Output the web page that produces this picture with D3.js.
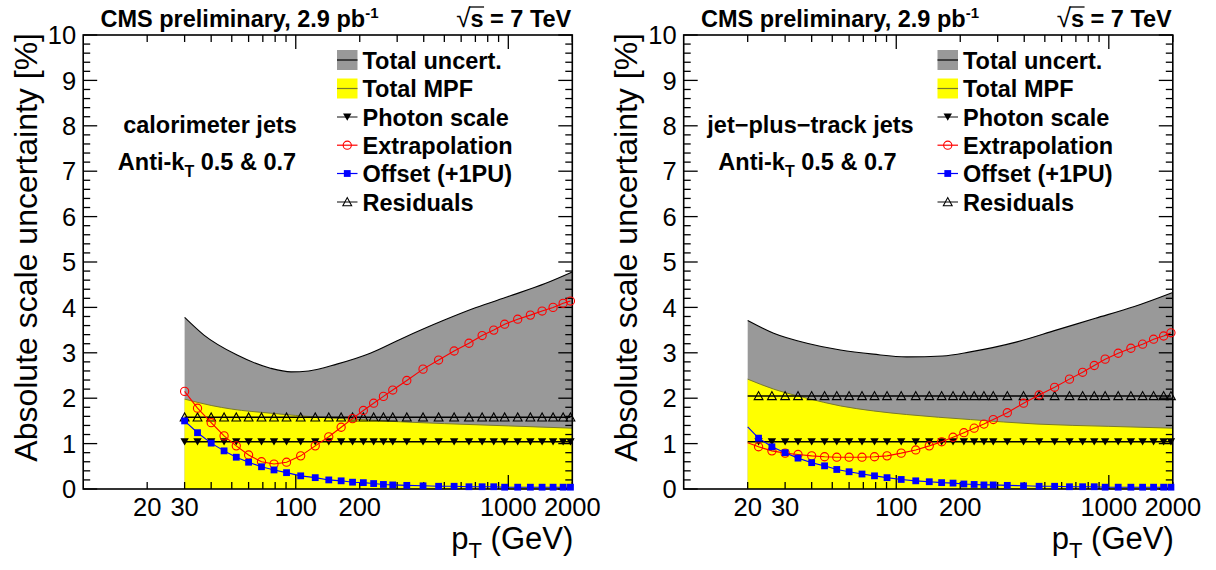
<!DOCTYPE html>
<html><head><meta charset="utf-8">
<script src="https://cdn.jsdelivr.net/npm/d3@7"></script>
<style>
body{margin:0;background:#fff}
svg{display:block}
text{font-family:"Liberation Sans",Arial,Helvetica,sans-serif;fill:#000}
</style>
</head><body>
<svg id="c" width="1216" height="570"></svg>
<script>
// ---------------- DATA ----------------
const xDomain = [10, 2000];
const yDomain = [0, 10];
const yTickValues = [0, 1, 2, 3, 4, 5, 6, 7, 8, 9, 10];
const xTickLabelValues = [20, 30, 100, 200, 1000, 2000];
const legendLabels = ["Total uncert.", "Total MPF", "Photon scale", "Extrapolation", "Offset (+1PU)", "Residuals"];
const headerLeft = "CMS preliminary, 2.9 pb";
const headerRight = "= 7 TeV";
const yTitle = "Absolute scale uncertainty [%]";

// calorimeter jets (left panel)
const calMarkerPt = [30, 34.5, 40, 46, 52.5, 60, 69, 79, 90.5, 105.5, 123.5, 143, 163.5, 185, 208, 232.5, 258.5, 286, 333, 397, 470, 556, 653, 753, 854, 961, 1107, 1270, 1442, 1624, 1811, 1960];
const calPhoton = [1.04, 1.04, 1.04, 1.04, 1.04, 1.04, 1.04, 1.04, 1.04, 1.04, 1.04, 1.04, 1.04, 1.04, 1.04, 1.04, 1.04, 1.04, 1.04, 1.04, 1.04, 1.04, 1.04, 1.04, 1.04, 1.04, 1.04, 1.04, 1.04, 1.04, 1.04, 1.04];
const calExtrap = [2.15, 1.78, 1.46, 1.17, 0.95, 0.75, 0.60, 0.55, 0.59, 0.73, 0.95, 1.15, 1.36, 1.55, 1.73, 1.89, 2.04, 2.18, 2.39, 2.64, 2.84, 3.04, 3.21, 3.38, 3.50, 3.63, 3.74, 3.83, 3.92, 4.00, 4.09, 4.14];
const calOffset = [1.50, 1.24, 1.01, 0.84, 0.70, 0.59, 0.49, 0.42, 0.36, 0.29, 0.25, 0.20, 0.18, 0.15, 0.14, 0.12, 0.10, 0.09, 0.08, 0.07, 0.06, 0.06, 0.05, 0.05, 0.05, 0.04, 0.04, 0.04, 0.04, 0.04, 0.04, 0.04];
const calResidual = [1.58, 1.58, 1.58, 1.58, 1.58, 1.58, 1.58, 1.58, 1.58, 1.58, 1.58, 1.58, 1.58, 1.58, 1.58, 1.58, 1.58, 1.58, 1.58, 1.58, 1.58, 1.58, 1.58, 1.58, 1.58, 1.58, 1.58, 1.58, 1.58, 1.58, 1.58, 1.58];
const calTotalPt = [30, 37, 53, 76, 95, 115, 156, 224, 311, 500, 700, 1000, 1500, 2000];
const calTotal = [3.78, 3.39, 2.95, 2.66, 2.58, 2.60, 2.75, 2.99, 3.30, 3.72, 3.99, 4.24, 4.53, 4.78];
const calMpfPt = [30, 40, 50, 76, 100, 150, 200, 311, 500, 1000, 2000];
const calMpf = [1.98, 1.84, 1.76, 1.67, 1.62, 1.56, 1.53, 1.48, 1.44, 1.39, 1.34];

// jet-plus-track jets (right panel)
const jptLineStartPt = [20];
const jptPhotonStart = [1.04];
const jptExtrapStart = [1.02];
const jptOffsetStart = [1.37];
const jptResidualStart = [2.05];
const jptMarkerPt = [22.5, 26, 30, 34.5, 40, 46, 52.5, 60, 69, 79, 90.5, 105.5, 123.5, 143, 163.5, 185, 208, 232.5, 258.5, 286, 333, 397, 470, 556, 653, 753, 854, 961, 1107, 1270, 1442, 1624, 1811, 1960];
const jptPhoton = [1.04, 1.04, 1.04, 1.04, 1.04, 1.04, 1.04, 1.04, 1.04, 1.04, 1.04, 1.04, 1.04, 1.04, 1.04, 1.04, 1.04, 1.04, 1.04, 1.04, 1.04, 1.04, 1.04, 1.04, 1.04, 1.04, 1.04, 1.04, 1.04, 1.04, 1.04, 1.04, 1.04, 1.04];
const jptExtrap = [0.93, 0.84, 0.79, 0.76, 0.73, 0.71, 0.70, 0.70, 0.70, 0.71, 0.73, 0.79, 0.86, 0.95, 1.04, 1.14, 1.24, 1.34, 1.43, 1.53, 1.68, 1.89, 2.07, 2.24, 2.42, 2.57, 2.72, 2.86, 2.99, 3.10, 3.19, 3.30, 3.37, 3.44];
const jptOffset = [1.12, 0.93, 0.80, 0.68, 0.58, 0.51, 0.43, 0.38, 0.33, 0.29, 0.25, 0.21, 0.18, 0.16, 0.14, 0.13, 0.11, 0.10, 0.09, 0.09, 0.08, 0.07, 0.06, 0.06, 0.05, 0.05, 0.05, 0.04, 0.04, 0.04, 0.04, 0.04, 0.04, 0.04];
const jptResidual = [2.05, 2.05, 2.05, 2.05, 2.05, 2.05, 2.05, 2.05, 2.05, 2.05, 2.05, 2.05, 2.05, 2.05, 2.05, 2.05, 2.05, 2.05, 2.05, 2.05, 2.05, 2.05, 2.05, 2.05, 2.05, 2.05, 2.05, 2.05, 2.05, 2.05, 2.05, 2.05, 2.05, 2.05];
const jptTotalPt = [20, 26.5, 38, 54.6, 78, 112, 165, 223, 370, 565, 865, 1319, 2000];
const jptTotal = [3.71, 3.43, 3.21, 3.06, 2.97, 2.91, 2.93, 3.02, 3.24, 3.50, 3.76, 4.02, 4.33];
const jptMpfPt = [20, 26.5, 38, 54.6, 78, 112, 223, 459, 1000, 2000];
const jptMpf = [2.42, 2.20, 2.00, 1.83, 1.72, 1.64, 1.53, 1.43, 1.38, 1.34];

// ---------------- DRAW ----------------
const svg = d3.select("#c");
svg.append("rect").attr("width", 1216).attr("height", 570).attr("fill", "#fff");

const COL = {gray: "#999999", yellow: "#ffff00", mpfLine: "#7a7a2a", red: "#ff0000", blue: "#0000ff"};
const FS = 23.5; // bold annotation font size
const zip = (a, b) => a.map((v, i) => [v, b[i]]);

function marker(g, type, cx, cy) {
  if (type === "tdown") {
    g.append("path").attr("d", `M${cx-4.2},${cy-3.6}L${cx+4.2},${cy-3.6}L${cx},${cy+3.8}Z`).attr("fill", "#000");
  } else if (type === "tup") {
    g.append("path").attr("d", `M${cx-4.4},${cy+3.7}L${cx+4.4},${cy+3.7}L${cx},${cy-4.4}Z`)
      .attr("fill", "none").attr("stroke", "#000").attr("stroke-width", 1.1);
  } else if (type === "circle") {
    g.append("circle").attr("cx", cx).attr("cy", cy).attr("r", 4.1)
      .attr("fill", "none").attr("stroke", COL.red).attr("stroke-width", 1.1);
  } else if (type === "square") {
    g.append("rect").attr("x", cx-3.4).attr("y", cy-3.4).attr("width", 6.8).attr("height", 6.8).attr("fill", COL.blue);
  }
}

const panels = [
  {dx: 0, title: "calorimeter jets", markerPt: calMarkerPt, photon: calPhoton, extrap: calExtrap, offset: calOffset, residual: calResidual,
   totalPt: calTotalPt, total: calTotal, mpfPt: calMpfPt, mpf: calMpf, start: null},
  {dx: 600.5, title: "jet\u2212plus\u2212track jets", markerPt: jptMarkerPt, photon: jptPhoton, extrap: jptExtrap, offset: jptOffset, residual: jptResidual,
   totalPt: jptTotalPt, total: jptTotal, mpfPt: jptMpfPt, mpf: jptMpf,
   start: {pt: jptLineStartPt, photon: jptPhotonStart, extrap: jptExtrapStart, offset: jptOffsetStart, residual: jptResidualStart}}
];

panels.forEach(p => {
  const g = svg.append("g").attr("transform", `translate(${p.dx},0)`);
  const L = 83.2, R = 572.3, T = 35, B = 489;
  const x = d3.scaleLog().domain(xDomain).range([L, R]);
  const y = d3.scaleLinear().domain(yDomain).range([B, T]);

  // bands
  const total = zip(p.totalPt, p.total);
  const mpf = zip(p.mpfPt, p.mpf);
  const area = d3.area().x(d => x(d[0])).y0(y(0)).y1(d => y(d[1])).curve(d3.curveMonotoneX);
  const line = d3.line().x(d => x(d[0])).y(d => y(d[1])).curve(d3.curveMonotoneX);
  g.append("path").attr("d", area(total)).attr("fill", COL.gray);
  g.append("path").attr("d", line(total)).attr("fill", "none").attr("stroke", "#000").attr("stroke-width", 1.1);
  g.append("path").attr("d", area(mpf)).attr("fill", COL.yellow);
  g.append("path").attr("d", line(mpf)).attr("fill", "none").attr("stroke", COL.mpfLine).attr("stroke-width", 1);

  // frame and ticks
  const ax = g.append("g");
  ax.append("rect").attr("x", L).attr("y", T).attr("width", R - L).attr("height", B - T)
    .attr("fill", "none").attr("stroke", "#000").attr("stroke-width", 1.6);
  const yMinor = d3.range(0, 10.001, 0.2);
  yMinor.forEach(v => {
    const major = Math.abs(v - Math.round(v)) < 1e-6;
    const len = major ? 14 : 7;
    ax.append("line").attr("x1", L).attr("x2", L + len).attr("y1", y(v)).attr("y2", y(v)).attr("stroke", "#000").attr("stroke-width", 1.3);
    ax.append("line").attr("x1", R).attr("x2", R - len).attr("y1", y(v)).attr("y2", y(v)).attr("stroke", "#000").attr("stroke-width", 1.3);
  });
  const xt = [];
  [10, 100, 1000].forEach(d => { for (let k = 1; k <= 9; k++) { const v = d * k; if (v > 10 && v <= 2000) xt.push(v); } });
  xt.forEach(v => {
    const major = (v === 100 || v === 1000);
    const len = major ? 14 : 7;
    ax.append("line").attr("x1", x(v)).attr("x2", x(v)).attr("y1", B).attr("y2", B - len).attr("stroke", "#000").attr("stroke-width", 1.3);
    ax.append("line").attr("x1", x(v)).attr("x2", x(v)).attr("y1", T).attr("y2", T + len).attr("stroke", "#000").attr("stroke-width", 1.3);
  });

  // tick labels
  yTickValues.forEach(v => {
    ax.append("text").attr("x", L - 7).attr("y", y(v)).attr("dy", "0.36em").attr("text-anchor", "end")
      .attr("font-size", 25.5).text(v);
  });
  xTickLabelValues.forEach(v => {
    ax.append("text").attr("x", x(v)).attr("y", 515.5).attr("text-anchor", "middle").attr("font-size", 25.5).text(v);
  });

  // axis titles
  g.append("text").attr("transform", `translate(36.5,${T - 2}) rotate(-90)`).attr("text-anchor", "end")
    .attr("font-size", 32).text(yTitle);
  const xtitle = g.append("text").attr("x", R + 1).attr("y", 549).attr("text-anchor", "end").attr("font-size", 31);
  xtitle.append("tspan").text("p");
  xtitle.append("tspan").attr("font-size", 22).attr("dy", 9).text("T");
  xtitle.append("tspan").attr("dy", -9).text(" (GeV)");

  // series
  const ser = (vals, startVals) => {
    const pts = zip(p.markerPt, vals);
    return p.start ? zip(p.start.pt, startVals).concat(pts) : pts;
  };
  const lin = d3.line().x(d => x(d[0])).y(d => y(d[1]));
  const defs = [
    {vals: p.residual, sv: p.start && p.start.residual, color: "#000", w: 1.6, m: "tup"},
    {vals: p.photon, sv: p.start && p.start.photon, color: "#000", w: 1.6, m: "tdown"},
    {vals: p.extrap, sv: p.start && p.start.extrap, color: COL.red, w: 1.1, m: "circle"},
    {vals: p.offset, sv: p.start && p.start.offset, color: COL.blue, w: 1.1, m: "square"}
  ];
  defs.forEach(s => {
    g.append("path").attr("d", lin(ser(s.vals, s.sv))).attr("fill", "none").attr("stroke", s.color).attr("stroke-width", s.w);
    const mg = g.append("g");
    p.markerPt.forEach((pt, i) => marker(mg, s.m, x(pt), y(s.vals[i])));
  });

  // header
  const h = g.append("text").attr("x", 100.5).attr("y", 26.5).attr("font-size", FS).attr("font-weight", "bold");
  h.append("tspan").text(headerLeft);
  h.append("tspan").attr("dy", -9).attr("font-size", 15).text("-1");
  const hr = g.append("text").attr("x", R - 1).attr("y", 26.5).attr("text-anchor", "end").attr("font-size", FS).attr("font-weight", "bold");
  hr.append("tspan").attr("font-weight", "normal").attr("font-size", 26).text("\u221A");
  hr.append("tspan").text("s");
  hr.append("tspan").text(" " + headerRight);
  const hn = hr.node();
  const e0 = hn.getExtentOfChar(0), e1 = hn.getExtentOfChar(1);
  g.append("line").attr("x1", e0.x + e0.width - 1.5).attr("x2", e1.x + e1.width + 0.5)
    .attr("y1", 7).attr("y2", 7).attr("stroke", "#000").attr("stroke-width", 1.3);

  // panel labels
  g.append("text").attr("x", 210).attr("y", 133).attr("text-anchor", "middle").attr("font-size", FS).attr("font-weight", "bold")
    .text(p.title);
  const a = g.append("text").attr("x", 207).attr("y", 170).attr("text-anchor", "middle").attr("font-size", FS).attr("font-weight", "bold");
  a.append("tspan").text("Anti-k");
  a.append("tspan").attr("dy", 7).attr("font-size", 16).text("T");
  a.append("tspan").attr("dy", -7).text(" 0.5 & 0.7");

  // legend
  const lx = 337, rowY = [60, 88.5, 117, 145.2, 173.5, 202];
  const lg = g.append("g");
  lg.append("rect").attr("x", lx).attr("y", rowY[0] - 10).attr("width", 20.5).attr("height", 20).attr("fill", COL.gray);
  lg.append("line").attr("x1", lx).attr("x2", lx + 20.5).attr("y1", rowY[0]).attr("y2", rowY[0]).attr("stroke", "#222").attr("stroke-width", 1.5);
  lg.append("rect").attr("x", lx).attr("y", rowY[1] - 10).attr("width", 20.5).attr("height", 20).attr("fill", COL.yellow);
  lg.append("line").attr("x1", lx).attr("x2", lx + 20.5).attr("y1", rowY[1]).attr("y2", rowY[1]).attr("stroke", COL.mpfLine).attr("stroke-width", 1.2);
  const lm = [null, null, {c: "#333", m: "tdown"}, {c: COL.red, m: "circle"}, {c: COL.blue, m: "square"}, {c: "#333", m: "tup"}];
  lm.forEach((d, i) => {
    if (!d) return;
    lg.append("line").attr("x1", lx).attr("x2", lx + 20.5).attr("y1", rowY[i]).attr("y2", rowY[i]).attr("stroke", d.c).attr("stroke-width", 1.2);
    marker(lg, d.m, lx + 10.25, rowY[i]);
  });
  legendLabels.forEach((t, i) => {
    lg.append("text").attr("x", lx + 25.5).attr("y", rowY[i] + 8.5).attr("font-size", FS).attr("font-weight", "bold").text(t);
  });
});
</script>
</body></html>
